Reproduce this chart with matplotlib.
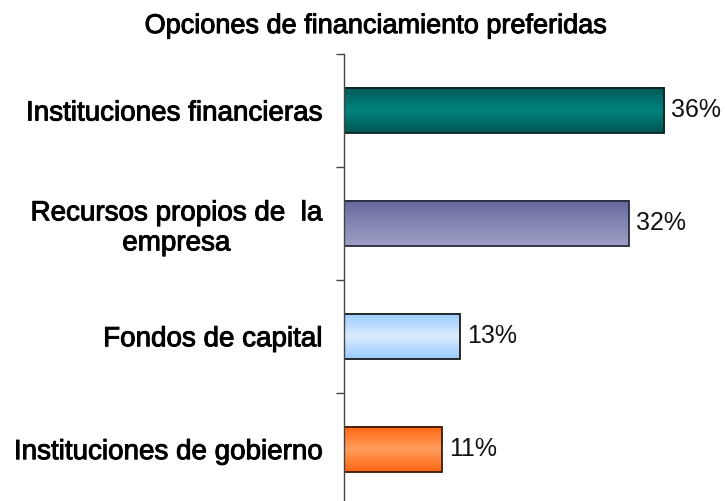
import matplotlib
matplotlib.use("Agg")
import matplotlib.pyplot as plt
import matplotlib.patheffects as pe
from matplotlib.colors import LinearSegmentedColormap
import numpy as np

plt.rcParams['font.family'] = ['Liberation Sans', 'DejaVu Sans']

categories = [
    "Instituciones financieras",
    "Recursos propios de  la\nempresa",
    "Fondos de capital",
    "Instituciones de gobierno",
]
values = [36, 32, 13, 11]
# gradient stops (top, middle, bottom) for each bar
bar_colors = [
    ["#005a56", "#00837e", "#005652"],
    ["#64669a", "#8486b2", "#9d9fc5"],
    ["#99cbff", "#dcecff", "#99cbff"],
    ["#ff6612", "#ff9d5e", "#ff6612"],
]
edge_colors = ["#0d2422", "#2a2a3a", "#1a1a1a", "#3a1a00"]

# slightly heavier strokes, the original text looks thicker than regular
heavy = [pe.withStroke(linewidth=0.7, foreground='#000000')]

fig = plt.figure(figsize=(7.25, 5.01), dpi=100)
ax = fig.add_axes([0.4745, -0.0092, 0.5255, 0.9014])

pos = np.arange(len(categories))
bar_h = 0.40

for i, (v, cols) in enumerate(zip(values, bar_colors)):
    cmap = LinearSegmentedColormap.from_list(f"g{i}", cols)
    grad = np.linspace(0, 1, 100).reshape(-1, 1)
    ax.imshow(grad, cmap=cmap, aspect='auto', interpolation='bicubic',
              extent=[0, v, pos[i] + bar_h / 2, pos[i] - bar_h / 2], zorder=1)

bars = ax.barh(pos, values, height=bar_h, facecolor='none',
               edgecolor=edge_colors, linewidth=1.3, zorder=2)

for b, v in zip(bars, values):
    ax.annotate(f"{v}%", (b.get_width(), b.get_y() + b.get_height() / 2),
                xytext=(5, 0), textcoords='offset points',
                va='center', ha='left', fontsize=18, color='#111111')

ax.set_xlim(0, 42.8)
ax.set_ylim(3.5, -0.5)

ax.set_yticks(pos, categories, fontsize=20, multialignment='center')
ax.tick_params(axis='y', which='major', length=0, pad=16)
ax.set_yticks(np.arange(-0.5, 4.0, 1.0), minor=True)
ax.tick_params(axis='y', which='minor', length=6, width=1, color='#444444')
ax.set_xticks([])
for lbl in ax.get_yticklabels():
    lbl.set_path_effects(heavy)

for s in ['top', 'right', 'bottom']:
    ax.spines[s].set_visible(False)
ax.spines['left'].set_color('#444444')
ax.spines['left'].set_linewidth(1)

fig.text(0.519, 0.934, "Opciones de financiamiento preferidas",
         ha='center', va='baseline', fontsize=19.5, color='#000000',
         path_effects=heavy)

fig.savefig("out.png", dpi=100)
